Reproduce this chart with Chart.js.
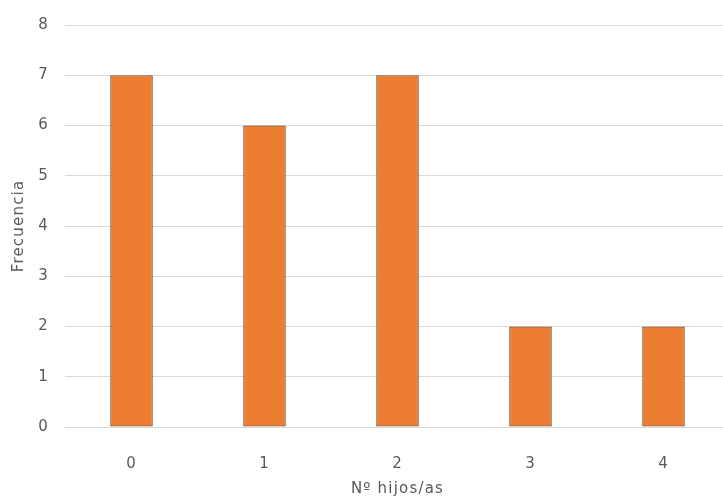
<!DOCTYPE html>
<html>
<head>
<meta charset="utf-8">
<script src="https://cdn.jsdelivr.net/npm/chart.js@4"></script>
<style>
  html, body { margin: 0; padding: 0; background: #fff; overflow: hidden; }
  #wrap { width: 730px; height: 503px; }
</style>
</head>
<body>
<div id="wrap"><canvas id="graphique-barre"></canvas></div>
<script>
// Données du graphique
const categorias = ['0', '1', '2', '3', '4'];
const frecuencias = [7, 6, 7, 2, 2];
const ticksY = [0, 1, 2, 3, 4, 5, 6, 7, 8];

const grisTexto = '#595959';
const police = '"DejaVu Sans", "Noto Sans", sans-serif';

// Espacement des lettres (le texte de l'original est étiré)
const espacement = {
    id: 'espacement',
    beforeLayout: c => { c.ctx.letterSpacing = '1.2px'; },
    beforeDraw: c => { c.ctx.letterSpacing = '1.2px'; }
};

new Chart(document.getElementById('graphique-barre').getContext('2d'), {
    type: 'bar',
    data: {
        labels: categorias,
        datasets: [{
            label: 'Frecuencia',
            data: frecuencias,
            backgroundColor: '#ED7D31',
            borderColor: '#8E4719',
            borderWidth: 1.3,
            borderSkipped: false,
            barPercentage: 0.32,
            categoryPercentage: 1
        }]
    },
    options: {
        responsive: true,
        maintainAspectRatio: false,
        animation: false,
        layout: { padding: { top: 24, right: 0, left: 0, bottom: 0 } },
        plugins: {
            legend: { display: false },
            tooltip: { enabled: false }
        },
        scales: {
            y: {
                min: 0,
                max: 8,
                afterFit: s => { s.width = 65; },
                afterBuildTicks: s => { s.ticks = ticksY.map(v => ({ value: v })); },
                grid: { color: '#d9d9d9', lineWidth: 1, drawTicks: false },
                border: { display: false },
                ticks: { color: grisTexto, padding: 16, font: { family: police, size: 15 } },
                title: {
                    display: true,
                    text: 'Frecuencia',
                    color: grisTexto,
                    padding: { top: 10, bottom: 0 },
                    font: { family: police, size: 15 }
                }
            },
            x: {
                afterFit: s => { s.height = 76; },
                grid: { display: false },
                border: { display: false },
                ticks: { color: grisTexto, padding: 20, font: { family: police, size: 15 } },
                title: {
                    display: true,
                    text: 'Nº hijos/as',
                    color: grisTexto,
                    padding: { top: 0, bottom: 5 },
                    font: { family: police, size: 15 }
                }
            }
        }
    },
    plugins: [espacement]
});
</script>
</body>
</html>
